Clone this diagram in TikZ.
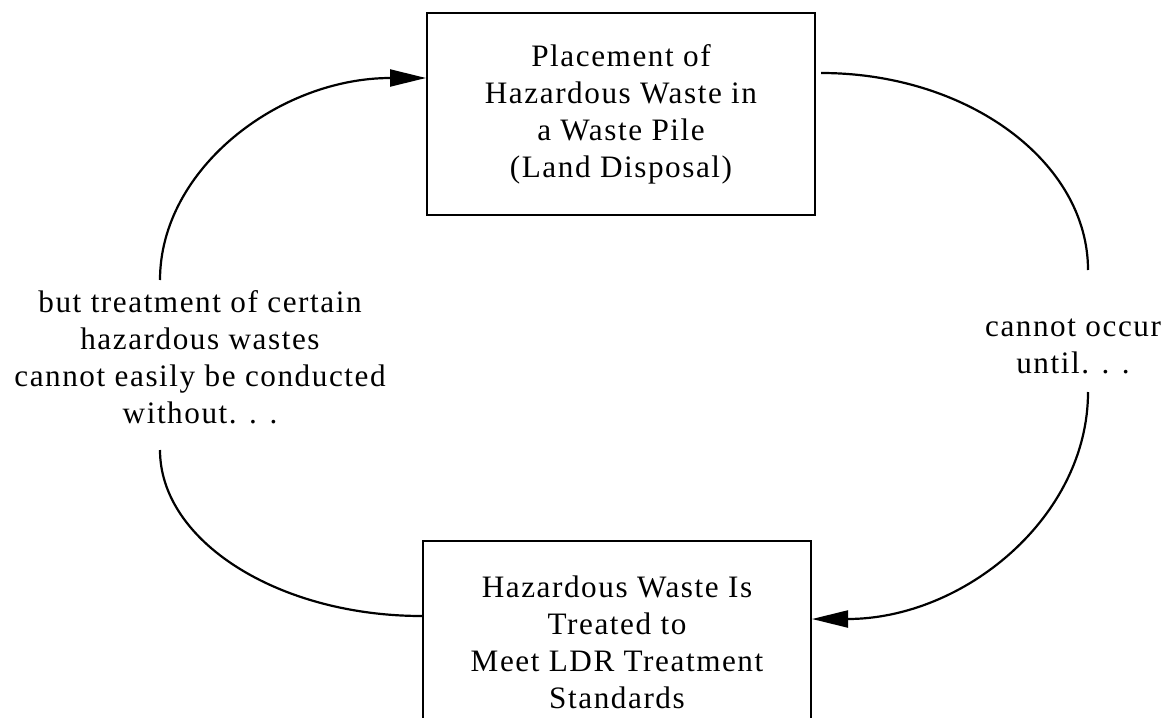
\documentclass[tikz,border=0pt]{standalone}
\usepackage{fontspec}
\setmainfont{Liberation Serif}
\newfontfamily\spacedfont[LetterSpace=5]{Liberation Serif}
\usetikzlibrary{arrows.meta}
\usetikzlibrary{calc}

\begin{document}
\begin{tikzpicture}[x=0.5pt,y=0.5pt,yscale=-1,xscale=1,
  txt/.style={align=center,inner sep=0pt,font=\spacedfont\fontsize{15.6}{18.5}\selectfont},
  box/.style={txt,draw,line width=1pt,minimum width=194pt,minimum height=101pt},
  arc/.style={line width=1.1pt},
  tip/.style={-{Triangle[length=18pt,width=8.5pt]}}]
\useasboundingbox (0,0) rectangle (1165,717);
\clip (0,0) rectangle (1165,717);

%Shape: Rectangle [top]
\node[box] (plc) at (621,114) {Placement of\\Hazardous Waste in\\a Waste Pile\\(Land Disposal)};
%Shape: Rectangle [bottom]
\node[box] (trt) at (617,642) {Hazardous Waste Is\\Treated to\\Meet LDR Treatment\\Standards};

% Text Node
\node[txt] (until) at (1073,346) {cannot occur\\until. . .};
% Text Node
\node[txt] (without) at (200,357) {but treatment of certain\\hazardous wastes\\cannot easily be conducted\\without. . .};

%Curve ends beside the labels
\coordinate (lu) at (160,280);
\coordinate (ll) at (160,450);
\coordinate (ru) at (1088,270);
\coordinate (rl) at (1088,392);

%Curve Lines
\draw[arc,tip] (lu) .. controls +(0,-111) and +(-147,0) .. ($(plc.west)+(0,-36)$);
\draw[arc] ($(plc.east)+(5,-41)$) .. controls +(147,0) and +(0,-108) .. (ru);
\draw[arc,tip] (rl) .. controls +(0,125) and +(152,0) .. ($(trt.east)+(0,-23)$);
\draw[arc] (ll) .. controls +(0,91) and +(-144,0) .. ($(trt.west)+(0,-26)$);

\end{tikzpicture}
\end{document}
